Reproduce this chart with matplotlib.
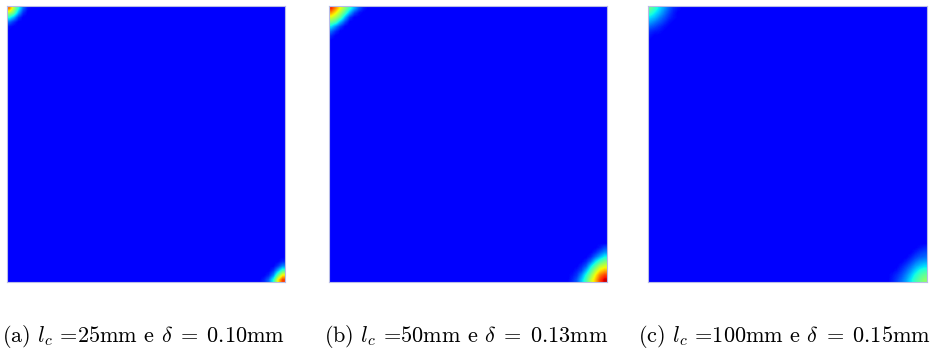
import matplotlib.pyplot as plt
import matplotlib.colors as mcolors
import numpy as np

plt.rcParams['font.family'] = 'serif'
plt.rcParams['font.serif'] = ['cmr10', 'DejaVu Serif']
plt.rcParams['mathtext.fontset'] = 'cm'
plt.rcParams['axes.unicode_minus'] = False

n_cells = 60  # elements per side of the square mesh

captions = [r'(a) $l_c$ =25mm e $\delta\;=\;0.10$mm',
            r'(b) $l_c$ =50mm e $\delta\;=\;0.13$mm',
            r'(c) $l_c$ =100mm e $\delta\;=\;0.15$mm']

# damage near the top-left corner (row 0 = top edge)
tl_a = [[0.75, 0.50, 0.30, 0.12, 0.02],
        [0.50, 0.40, 0.20, 0.05, 0.00],
        [0.30, 0.20, 0.06, 0.00, 0.00],
        [0.12, 0.05, 0.00, 0.00, 0.00],
        [0.02, 0.00, 0.00, 0.00, 0.00]]
tl_b = [[0.85, 0.72, 0.58, 0.45, 0.32, 0.20, 0.10, 0.03],
        [0.70, 0.60, 0.48, 0.35, 0.20, 0.08, 0.02, 0.00],
        [0.55, 0.48, 0.38, 0.20, 0.06, 0.00, 0.00, 0.00],
        [0.40, 0.35, 0.20, 0.08, 0.00, 0.00, 0.00, 0.00],
        [0.25, 0.15, 0.06, 0.00, 0.00, 0.00, 0.00, 0.00],
        [0.12, 0.05, 0.00, 0.00, 0.00, 0.00, 0.00, 0.00],
        [0.04, 0.00, 0.00, 0.00, 0.00, 0.00, 0.00, 0.00]]
tl_c = [[0.40, 0.33, 0.25, 0.18, 0.11, 0.05, 0.02],
        [0.33, 0.27, 0.21, 0.14, 0.08, 0.03, 0.00],
        [0.25, 0.21, 0.15, 0.10, 0.05, 0.02, 0.00],
        [0.18, 0.14, 0.10, 0.06, 0.02, 0.00, 0.00],
        [0.11, 0.08, 0.05, 0.02, 0.00, 0.00, 0.00],
        [0.05, 0.03, 0.02, 0.00, 0.00, 0.00, 0.00],
        [0.02, 0.00, 0.00, 0.00, 0.00, 0.00, 0.00]]

# damage near the bottom-right corner (last row = bottom edge)
br_a = [[0.00, 0.00, 0.00, 0.00, 0.04],
        [0.00, 0.00, 0.00, 0.06, 0.15],
        [0.00, 0.00, 0.06, 0.20, 0.35],
        [0.00, 0.04, 0.15, 0.40, 0.60],
        [0.04, 0.12, 0.30, 0.60, 0.82]]
br_b = [[0.00, 0.00, 0.00, 0.00, 0.00, 0.00, 0.03, 0.08],
        [0.00, 0.00, 0.00, 0.00, 0.00, 0.04, 0.10, 0.16],
        [0.00, 0.00, 0.00, 0.00, 0.04, 0.12, 0.20, 0.28],
        [0.00, 0.00, 0.00, 0.04, 0.12, 0.25, 0.35, 0.42],
        [0.00, 0.00, 0.04, 0.10, 0.25, 0.38, 0.50, 0.55],
        [0.00, 0.03, 0.08, 0.20, 0.35, 0.50, 0.62, 0.68],
        [0.02, 0.06, 0.16, 0.30, 0.45, 0.60, 0.75, 0.82],
        [0.04, 0.10, 0.22, 0.35, 0.52, 0.66, 0.82, 0.92]]
br_c = [[0.00, 0.00, 0.00, 0.00, 0.00, 0.00, 0.02, 0.04],
        [0.00, 0.00, 0.00, 0.00, 0.00, 0.03, 0.06, 0.08],
        [0.00, 0.00, 0.00, 0.00, 0.03, 0.07, 0.10, 0.12],
        [0.00, 0.00, 0.00, 0.03, 0.07, 0.12, 0.16, 0.18],
        [0.00, 0.00, 0.03, 0.07, 0.12, 0.18, 0.22, 0.25],
        [0.00, 0.02, 0.06, 0.11, 0.17, 0.24, 0.30, 0.33],
        [0.02, 0.05, 0.09, 0.15, 0.22, 0.30, 0.36, 0.40],
        [0.03, 0.07, 0.12, 0.18, 0.26, 0.34, 0.40, 0.45]]

fields = []
for tl, br in [(tl_a, br_a), (tl_b, br_b), (tl_c, br_c)]:
    d = np.zeros((n_cells, n_cells))
    tl = np.array(tl)
    br = np.array(br)
    d[:tl.shape[0], :tl.shape[1]] = tl
    d[-br.shape[0]:, -br.shape[1]:] = br
    fields.append(d)

fig = plt.figure(figsize=(9.39, 3.54), dpi=100)
W, H = 939, 354
boxes = [(7, 6, 278, 276), (329, 6, 278, 276), (648, 6, 279, 276)]
cap_x = [143, 466, 784]
norm = mcolors.Normalize(vmin=-0.14, vmax=1.0)

for (x0, y0, w, h), d, cap, cx in zip(boxes, fields, captions, cap_x):
    ax = fig.add_axes([x0 / W, 1 - (y0 + h) / H, w / W, h / H])
    ax.imshow(d, cmap='jet', norm=norm, interpolation='bilinear',
              aspect='auto', extent=(0, 1, 0, 1))
    ax.set_xticks([])
    ax.set_yticks([])
    for s in ax.spines.values():
        s.set_color('#b8bce8')
        s.set_linewidth(0.8)
    fig.text(cx / W, 1 - 336 / H, cap, ha='center', va='center',
             fontsize=16)

fig.savefig('out.png', dpi=100)
